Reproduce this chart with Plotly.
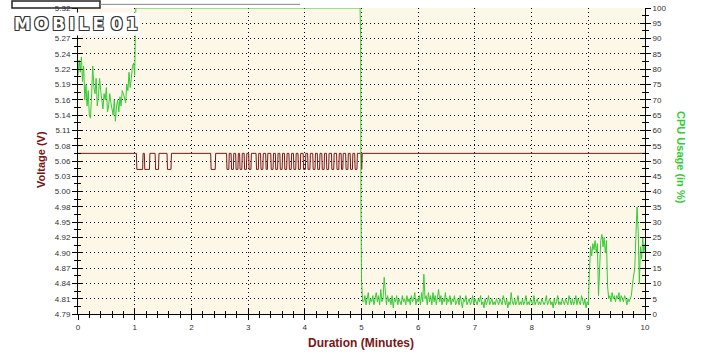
import numpy as np
import plotly.graph_objects as go

# ---------------- data ----------------
# CPU usage (%), right axis
cpu_t_a = np.round(np.arange(0.0, 1.0001, 0.02), 3)
cpu_a = [78, 83, 79, 84, 76, 81, 70, 75, 68, 73, 65, 64, 72, 81, 74, 72, 77, 68, 71, 77,
         73, 69, 67, 72, 70, 74, 66, 68, 72, 69, 67, 65, 70, 63, 68, 70, 66, 71, 68, 73,
         72, 70, 69, 75, 73, 79, 74, 77, 81, 82, 78]
cpu_t_plateau = [1.01, 1.02, 4.975, 4.985, 4.99, 5.0, 5.02]
cpu_plateau = [90, 100, 100, 90, 37, 11, 4]
cpu_t_b = np.round(np.arange(5.04, 9.0001, 0.02), 3)
cpu_b = [4, 6, 3, 5, 7, 3, 5, 4, 6, 3, 5, 7, 4, 6, 3, 8, 4, 5, 12, 6,
         3, 6, 4, 5, 3, 6, 2, 5, 4, 6, 3, 5, 4, 3, 6, 4, 5, 3, 6, 4,
         5, 3, 6, 4, 5, 7, 3, 5, 4, 6, 3, 7, 4, 13, 5, 6, 3, 7, 4, 6,
         3, 7, 4, 6, 3, 5, 8, 4, 6, 3, 5, 4, 7, 3, 5, 4, 6, 3, 5, 4,
         6, 3, 4, 5, 3, 6, 4, 2, 5, 4, 6, 3, 4, 5, 3, 4, 6, 3, 5, 4,
         3, 5, 4, 6, 3, 4, 2, 5, 3, 4, 6, 3, 4, 5, 3, 4, 3, 5, 4, 3,
         5, 4, 3, 6, 4, 3, 5, 2, 4, 3, 7, 4, 3, 5, 3, 4, 6, 3, 4, 3,
         5, 3, 4, 6, 3, 4, 3, 5, 4, 3, 6, 3, 4, 5, 3, 4, 3, 5, 4, 3,
         4, 6, 3, 4, 5, 3, 4, 2, 5, 3, 4, 6, 3, 4, 3, 5, 4, 3, 5, 4,
         3, 6, 4, 3, 5, 3, 4, 6, 3, 5, 4, 3, 6, 4, 3, 5, 2, 4, 3]
cpu_t_c = np.round(np.arange(9.02, 10.0001, 0.02), 3)
cpu_c = [14, 22, 19, 23, 21, 24, 20, 23, 6, 18, 24, 26, 22, 25, 20, 24, 9, 5, 6, 4,
         7, 5, 6, 4, 6, 5, 7, 4, 6, 5, 4, 6, 5, 3, 5, 4, 5, 6, 10, 13,
         15, 26, 35, 27, 10, 22, 18, 25, 20, 23]

# Voltage (V), left axis: high level with low pulses (start, end in minutes)
volt_high = 5.070
volt_low = 5.042
volt_low_intervals = [(1.03, 1.14), (1.17, 1.26), (1.36, 1.42), (1.57, 1.64), (2.34, 2.42),
                      (2.62, 2.66), (2.70, 2.74), (2.78, 2.82), (2.85, 2.89), (2.93, 2.97),
                      (3.01, 3.05), (3.14, 3.18), (3.22, 3.26), (3.31, 3.34), (3.40, 3.44),
                      (3.48, 3.52), (3.56, 3.60), (3.64, 3.68), (3.72, 3.76), (3.80, 3.84),
                      (3.88, 3.92), (3.97, 4.01), (4.05, 4.09), (4.14, 4.18), (4.22, 4.26),
                      (4.30, 4.34), (4.38, 4.42), (4.47, 4.51), (4.56, 4.60), (4.64, 4.67),
                      (4.72, 4.76), (4.80, 4.84), (4.88, 4.92), (4.995, 5.005)]

x_ticks = list(range(0, 11))
volt_step = 0.5333333 / 20
volt_min = 4.79
volt_ticktext = ["4.79", "4.81", "4.84", "4.87", "4.90", "4.92", "4.95", "4.98", "5.00", "5.03",
                 "5.06", "5.08", "5.11", "5.14", "5.16", "5.19", "5.22", "5.24", "5.27", "5.30", "5.32"]
cpu_ticks = list(range(0, 101, 5))

# ---------------- build ----------------
cpu_t = list(cpu_t_a) + cpu_t_plateau + list(cpu_t_b) + list(cpu_t_c)
cpu_v = cpu_a + cpu_plateau + cpu_b + cpu_c

ramp = 0.008
vx, vy = [0.0], [volt_high]
for a, b in volt_low_intervals:
    vx += [a, a + ramp, b, b + ramp]
    vy += [volt_high, volt_low, volt_low, volt_high]
vx.append(10.0)
vy.append(volt_high)

volt_tickvals = [volt_min + i * volt_step for i in range(len(volt_ticktext))]
volt_max = volt_tickvals[-1] + 1e-6

RED = "#7A1616"
GREEN = "#33CC33"
FONT = "Liberation Sans, Arial, sans-serif"
GRIDDASH = "1px,3px"

fig = go.Figure()
fig.add_trace(go.Scatter(x=vx, y=vy, mode="lines", line=dict(color=RED, width=1),
                         xaxis="x", yaxis="y", hoverinfo="skip", showlegend=False))
fig.add_trace(go.Scatter(x=cpu_t, y=cpu_v, mode="lines", line=dict(color=GREEN, width=1),
                         xaxis="x", yaxis="y2", hoverinfo="skip", showlegend=False))
# invisible traces to carry the inward half of the crossing ticks
fig.add_trace(go.Scatter(x=[None], y=[None], xaxis="x2", yaxis="y3", showlegend=False))
fig.add_trace(go.Scatter(x=[None], y=[None], xaxis="x2", yaxis="y4", showlegend=False))

W, H = 720, 360
L, R, T, B = 78, 75, 4, 46
pw, ph = W - L - R, H - T - B


def px(xp, yp):
    return (xp - L) / pw, (H - B - yp) / ph


tickfont = dict(family=FONT, size=8, color="#333333")
common_x = dict(range=[0, 10], tickvals=x_ticks, showline=True, linecolor="black", linewidth=1)

fig.update_layout(
    width=W, height=H, margin=dict(l=L, r=R, t=T, b=B),
    paper_bgcolor="white", plot_bgcolor="#FDF7E8",
    xaxis=dict(**common_x, ticks="outside", ticklen=5, tickcolor="black", tickfont=tickfont,
               showgrid=True, gridcolor="black", griddash=GRIDDASH, gridwidth=1, zeroline=False,
               minor=dict(dtick=0.2, ticks="outside", ticklen=3, tickcolor="black", showgrid=False)),
    xaxis2=dict(**common_x, overlaying="x", anchor="y3", side="bottom", ticks="inside", ticklen=5,
                tickcolor="black", showticklabels=False, showgrid=False, zeroline=False,
                minor=dict(dtick=0.2, ticks="inside", ticklen=3, tickcolor="black")),
    yaxis=dict(range=[volt_min, volt_max], tickvals=volt_tickvals, ticktext=volt_ticktext,
               ticks="outside", ticklen=5, tickcolor="black", tickfont=tickfont,
               ticklabeloverflow="allow",
               showline=True, linecolor="black", linewidth=1,
               showgrid=True, gridcolor="black", griddash=GRIDDASH, gridwidth=1, zeroline=False,
               minor=dict(tickvals=[v + volt_step / 2 for v in volt_tickvals[:-1]],
                          ticks="outside", ticklen=3, tickcolor="black", showgrid=False)),
    yaxis2=dict(range=[0, 100.0001], tickvals=cpu_ticks, overlaying="y", side="right", anchor="x",
                ticks="outside", ticklen=5, tickcolor="black", tickfont=tickfont,
                ticklabeloverflow="allow",
                showline=True, linecolor="black", linewidth=1, showgrid=False, zeroline=False,
                minor=dict(dtick=2.5, ticks="outside", ticklen=3, tickcolor="black")),
    yaxis3=dict(range=[volt_min, volt_max], tickvals=volt_tickvals, overlaying="y", side="left",
                anchor="x2", ticks="inside", ticklen=5, tickcolor="black", showticklabels=False,
                showgrid=False, zeroline=False,
                minor=dict(tickvals=[v + volt_step / 2 for v in volt_tickvals[:-1]],
                           ticks="inside", ticklen=3, tickcolor="black")),
    yaxis4=dict(range=[0, 100.0001], tickvals=cpu_ticks, overlaying="y", side="right", anchor="x2",
                ticks="inside", ticklen=5, tickcolor="black", showticklabels=False,
                showgrid=False, zeroline=False,
                minor=dict(dtick=2.5, ticks="inside", ticklen=3, tickcolor="black")),
)

ax, ay = px(41, 158)
fig.add_annotation(x=ax, y=ay, xref="paper", yref="paper", text="<b>Voltage (V)</b>",
                   xanchor="center", yanchor="middle",
                   textangle=-90, showarrow=False, font=dict(family=FONT, size=11, color=RED))
ax, ay = px(681, 155)
fig.add_annotation(x=ax, y=ay, xref="paper", yref="paper", text="<b>CPU Usage (in %)</b>",
                   xanchor="center", yanchor="middle",
                   textangle=90, showarrow=False, font=dict(family=FONT, size=11, color=GREEN))
ax, ay = px(361, 343)
fig.add_annotation(x=ax, y=ay, xref="paper", yref="paper", text="<b>Duration (Minutes)</b>",
                   xanchor="center", yanchor="middle",
                   showarrow=False, font=dict(family=FONT, size=12, color=RED))
ax, ay = px(76, 20)
fig.add_annotation(x=ax, y=ay, xref="paper", yref="paper",
                   text="<b>M\u2009O\u2009B\u2009I\u2009L\u2009E\u2009\u20090\u20091</b>",
                   xanchor="center", yanchor="middle",
                   showarrow=False, bgcolor="white",
                   font=dict(family="DejaVu Sans, sans-serif", size=17, color="white",
                             shadow="1px 1px 0 #333, -1px -1px 0 #333, 1px -1px 0 #333, -1px 1px 0 #333"))

# box edges at the very top-left
x0, y0 = px(12, 0)
x1, y1 = px(100, 4)
fig.add_shape(type="rect", xref="paper", yref="paper", x0=x0, x1=x1, y0=y1, y1=y0 + 0.01,
              line=dict(color="#222222", width=1.5), fillcolor="rgba(0,0,0,0)")
x2, _ = px(300, 0)
fig.add_shape(type="line", xref="paper", yref="paper", x0=x1, x1=x2, y0=y0 - 0.001, y1=y0 - 0.001,
              line=dict(color="#888888", width=1))

fig.write_html("out.html")
